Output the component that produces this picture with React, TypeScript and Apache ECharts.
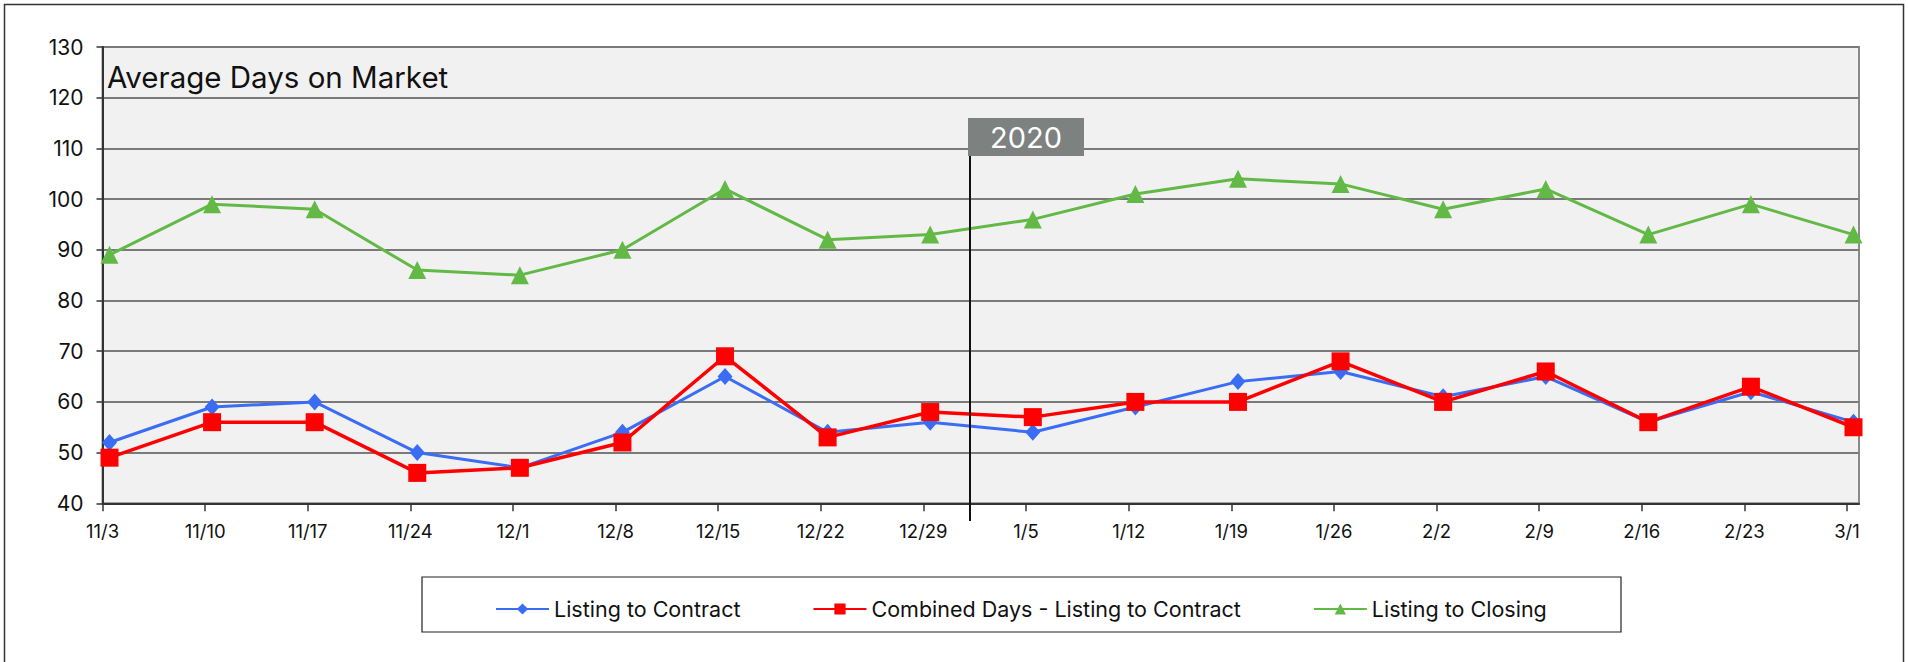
import React, { useEffect, useRef } from "react";
import * as echarts from "echarts";

const categories = ["11/3", "11/10", "11/17", "11/24", "12/1", "12/8", "12/15", "12/22", "12/29", "1/5", "1/12", "1/19", "1/26", "2/2", "2/9", "2/16", "2/23", "3/1"];
const listingToContract = [52, 59, 60, 50, 47, 54, 65, 54, 56, 54, 59, 64, 66, 61, 65, 56, 62, 56];
const combinedDays = [49, 56, 56, 46, 47, 52, 69, 53, 58, 57, 60, 60, 68, 60, 66, 56, 63, 55];
const listingToClosing = [89, 99, 98, 86, 85, 90, 102, 92, 93, 96, 101, 104, 103, 98, 102, 93, 99, 93];
const seriesNames = ["Listing to Contract", "Combined Days - Listing to Contract", "Listing to Closing"];
const yMin = 40;
const yMax = 130;
const yStep = 10;
const titleText = "Average Days on Market";
const yearLabel = "2020";

const FONT = "Inter, 'DejaVu Sans', sans-serif";

export default function App() {
  const ref = useRef<HTMLDivElement>(null);
  useEffect(() => {
    if (!ref.current) return;
    const chart = echarts.init(ref.current, null, { renderer: "svg" });
    const top = 47;
    const bottom = 662 - 503.3;
    chart.setOption({
      animation: false,
      backgroundColor: "#ffffff",
      textStyle: { fontFamily: FONT },
      grid: [
        { left: 102.5, right: 49, top, bottom, show: true, backgroundColor: "#f1f1f1", borderColor: "#8a8a8a", borderWidth: 2 },
        { left: 102.5, right: 61, top, bottom, show: false },
        { left: 109.5, right: 54.5, top, bottom, show: false },
      ],
      xAxis: [
        { gridIndex: 0, type: "value", min: 0, max: 1, axisLabel: { show: false }, axisTick: { show: false }, splitLine: { show: false }, axisLine: { show: true, lineStyle: { color: "#333", width: 2 } } },
        {
          gridIndex: 1, type: "category", data: categories, boundaryGap: false,
          axisLine: { show: false },
          axisTick: { show: true, length: 8, interval: 0, lineStyle: { color: "#333", width: 1.5 } },
          axisLabel: { interval: 0, margin: 18, fontSize: 18.5, color: "#111", fontFamily: FONT },
          splitLine: { show: false },
        },
        { gridIndex: 2, type: "category", data: categories, boundaryGap: false, show: false },
      ],
      yAxis: [
        {
          gridIndex: 0, type: "value", min: yMin, max: yMax, interval: yStep,
          axisLine: { show: true, lineStyle: { color: "#333", width: 2 } },
          axisTick: { show: true, length: 6, lineStyle: { color: "#333", width: 1.5 } },
          axisLabel: { margin: 19, fontSize: 21, color: "#111", fontFamily: FONT },
          splitLine: { show: true, lineStyle: { color: "#7a7a7a", width: 2 } },
        },
        { gridIndex: 1, type: "value", min: yMin, max: yMax, show: false, splitLine: { show: false } },
        { gridIndex: 2, type: "value", min: yMin, max: yMax, show: false, splitLine: { show: false } },
      ],
      legend: {
        data: seriesNames,
        left: 490,
        top: 593,
        itemWidth: 53,
        itemHeight: 14,
        itemGap: 72,
        textStyle: { fontSize: 21.5, color: "#111", fontFamily: FONT },
      },
      series: [
        {
          name: seriesNames[0], type: "line", xAxisIndex: 2, yAxisIndex: 2, data: listingToContract,
          symbol: "diamond", symbolSize: [15, 17],
          lineStyle: { color: "#3a6cf4", width: 3 }, itemStyle: { color: "#3a6cf4" }, z: 3,
        },
        {
          name: seriesNames[1], type: "line", xAxisIndex: 2, yAxisIndex: 2, data: combinedDays,
          symbol: "rect", symbolSize: 18,
          lineStyle: { color: "#ff0000", width: 3.5 }, itemStyle: { color: "#ff0000" }, z: 4,
        },
        {
          name: seriesNames[2], type: "line", xAxisIndex: 2, yAxisIndex: 2, data: listingToClosing,
          symbol: "triangle", symbolSize: 18,
          lineStyle: { color: "#62b946", width: 3 }, itemStyle: { color: "#62b946" }, z: 3,
        },
      ],
      graphic: [
        { type: "rect", shape: { x: 4.5, y: 4.5, width: 1899, height: 700 }, style: { fill: "none", stroke: "#333", lineWidth: 1.5 }, silent: true, z: 0 },
        { type: "rect", shape: { x: 422, y: 577, width: 1199, height: 55 }, style: { fill: "none", stroke: "#222", lineWidth: 1.2 }, silent: true, z: 0 },
        { type: "text", x: 107, y: 77, style: { text: titleText, fontSize: 29.5, fill: "#111", fontFamily: FONT, verticalAlign: "middle", align: "left" }, z: 10 },
        { type: "line", shape: { x1: 970, y1: 156, x2: 970, y2: 521 }, style: { stroke: "#111", lineWidth: 2 }, z: 10 },
        { type: "rect", shape: { x: 968, y: 118, width: 116, height: 38 }, style: { fill: "#7d8180" }, z: 10 },
        { type: "text", x: 1026, y: 137, style: { text: yearLabel, fontSize: 29, fill: "#ffffff", fontFamily: FONT, align: "center", verticalAlign: "middle" }, z: 11 },
      ],
    });
    return () => chart.dispose();
  }, []);
  return <div ref={ref} style={{ position: "absolute", left: 0, top: 0, width: 1908, height: 662 }} />;
}
